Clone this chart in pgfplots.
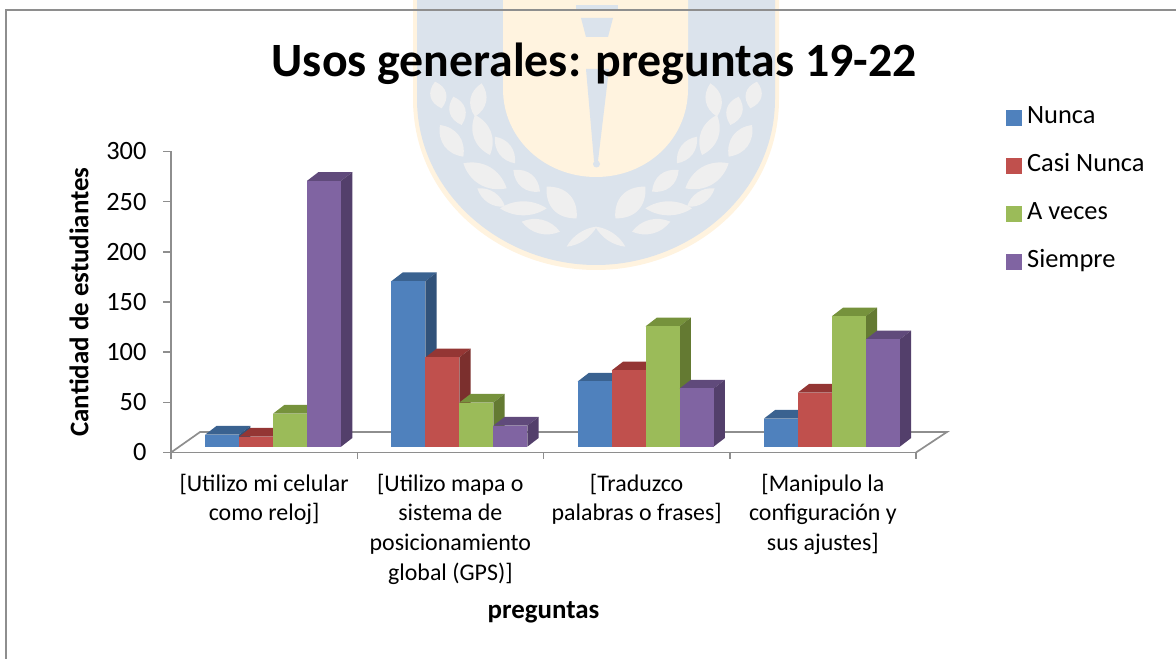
\documentclass[border=0pt]{standalone}
\usepackage{pgfplots}
\pgfplotsset{compat=1.18}
\usepackage{fontspec}
\setmainfont{Carlito}
\definecolor{cB}{HTML}{4F81BD}\definecolor{cBt}{HTML}{3A6290}\definecolor{cBs}{HTML}{31527A}
\definecolor{cR}{HTML}{C0504D}\definecolor{cRt}{HTML}{943634}\definecolor{cRs}{HTML}{7B2F2D}
\definecolor{cG}{HTML}{9BBB59}\definecolor{cGt}{HTML}{76923C}\definecolor{cGs}{HTML}{647A32}
\definecolor{cP}{HTML}{8064A2}\definecolor{cPt}{HTML}{604A7B}\definecolor{cPs}{HTML}{533F6B}
\definecolor{frameg}{HTML}{8E8E8E}
\definecolor{wmO}{HTML}{FFF3DF}\definecolor{wmB}{HTML}{DBE3EC}\definecolor{wmL}{HTML}{EFEFEF}
% one 3D column: group, series, value, colour prefix
\newcommand{\tb}[4]{%
  \pgfmathsetmacro\xa{#1+(#2-2)*0.18240}%
  \pgfmathsetmacro\xb{\xa+0.18240}%
  \pgfmathsetmacro\xc{\xa+0.0910}%
  \pgfmathsetmacro\xd{\xa+0.0607}%
  \pgfmathsetmacro\xe{\xb+0.0607}%
  \pgfmathsetmacro\vt{#3+8.67}%
  \pgfmathsetmacro\vb{8.67}%
  \edef\doit{%
    \noexpand\addplot[fill=#4t,draw=none,forget plot] coordinates {(\xa,#3) (\xd,\vt) (\xe,\vt) (\xb,#3)} -- cycle;
    \noexpand\addplot[fill=#4s,draw=none,forget plot] coordinates {(\xb,0) (\xe,\vb) (\xe,\vt) (\xb,#3)} -- cycle;
    \noexpand\addplot[ybar,bar width=34bp,bar shift=0pt,fill=#4,draw=none,forget plot] coordinates {(\xc,#3)};
  }\doit}
% watermark leaf in zoom coordinates (3x, origin 400,0) and its mirror
\newcommand{\leafone}[5]{%
  \pgfmathsetmacro\ax{400+#1/3}\pgfmathsetmacro\ay{659-#2/3}%
  \pgfmathsetmacro\bx{400+#3/3}\pgfmathsetmacro\by{659-#4/3}%
  \pgfmathsetmacro\nx{-(\by-\ay)}\pgfmathsetmacro\ny{\bx-\ax}%
  \pgfmathsetmacro\nn{veclen(\nx,\ny)}%
  \pgfmathsetmacro\ox{\nx/\nn*#5/3*0.8}\pgfmathsetmacro\oy{\ny/\nn*#5/3*0.8}%
  \fill[wmL] (\ax,\ay) .. controls ({\ax+(\bx-\ax)*0.3+\ox},{\ay+(\by-\ay)*0.3+\oy}) and ({\ax+(\bx-\ax)*0.7+\ox},{\ay+(\by-\ay)*0.7+\oy}) .. (\bx,\by)
     .. controls ({\ax+(\bx-\ax)*0.7-\ox},{\ay+(\by-\ay)*0.7-\oy}) and ({\ax+(\bx-\ax)*0.3-\ox},{\ay+(\by-\ay)*0.3-\oy}) .. (\ax,\ay) -- cycle;}
\newcommand{\leaf}[5]{\leafone{#1}{#2}{#3}{#4}{#5}\leafone{(1176-#1)}{#2}{(1176-#3)}{#4}{#5}}
\begin{document}
\begin{tikzpicture}[x=1bp,y=1bp]
\path[use as bounding box] (0,0) rectangle (1176,659);
% watermark
\fill[wmO] (413,659) -- (413,560) .. controls (413,460) and (500,389) .. (596,389) .. controls (692,389) and (779,460) .. (779,560) -- (779,659) -- cycle;
\fill[wmB] (417,659) -- (417,560) .. controls (417,465) and (503,394) .. (596,394) .. controls (689,394) and (775,465) .. (775,560) -- (775,659) -- cycle;
\fill[wmO] (503,659) -- (503,570) .. controls (503,520) and (545,482) .. (596,482) .. controls (647,482) and (688,520) .. (688,570) -- (688,659) -- cycle;
\fill[wmB] (576,654) rectangle (618,650);
\fill[wmB] (581,641) -- (613,641) -- (608,622) -- (586,622) -- cycle;
\fill[wmB] (586,590) -- (609,590) -- (598,498) -- (594,498) -- cycle;
\fill[wmB] (596.5,495) circle (3.5);
\leaf{125}{325}{105}{245}{40}
\leaf{185}{375}{160}{290}{40}
\leaf{225}{350}{245}{250}{40}
\leaf{190}{470}{120}{375}{45}
\leaf{270}{465}{225}{345}{45}
\leaf{345}{490}{285}{410}{35}
\leaf{320}{565}{190}{490}{50}
\leaf{420}{575}{340}{510}{40}
\leaf{315}{620}{232}{565}{30}
\leaf{440}{625}{300}{625}{35}
\leaf{530}{655}{440}{560}{55}
\leaf{480}{695}{365}{665}{35}
\leaf{590}{680}{500}{740}{22}
% frame
\draw[frameg,line width=1.5bp] (6,0) -- (6,649) -- (1176,649);
% frame axis: scale, labels, legend
\begin{axis}[
  at={(171bp,206.5bp)},anchor=south west,
  scale only axis,width=745bp,height=301bp,
  xmin=-0.5,xmax=3.5,ymin=0,ymax=300,
  clip=false,
  axis x line=bottom,axis y line=left,
  axis line style={frameg,line width=1.7bp,-},
  xtick={0,1,2,3},
  minor xtick={-0.5,0.5,1.5,2.5,3.5},
  xticklabels={{[Utilizo mi celular\\como reloj]},{[Utilizo mapa o\\sistema de\\posicionamiento\\global (GPS)]},{[Traduzco\\palabras o frases]},{[Manipulo la\\configuración y\\sus ajustes]}},
  ytick={0,50,100,150,200,250,300},
  major x tick style={draw=none},
  minor x tick style={frameg,line width=1.5bp},
  y tick style={frameg,line width=1.5bp},
  tick align=outside,
  major tick length=8bp,minor tick length=6.5bp,
  /pgf/number format/assume math mode=true,
  xticklabel style={align=center,font=\fontsize{24}{29.7}\selectfont,anchor=north,yshift=-10bp},
  yticklabel style={font=\fontsize{26.5}{26.5}\selectfont,xshift=-13bp},
  title={Usos generales: preguntas 19-22},
  title style={font=\fontsize{48}{48}\selectfont\bfseries,at={(axis description cs:0.568,1.228)},anchor=base},
  xlabel={preguntas},
  xlabel style={font=\fontsize{27}{27}\selectfont\bfseries,at={(axis description cs:0.5,-0.553)},anchor=base},
  ylabel={Cantidad de estudiantes},
  ylabel style={font=\fontsize{27}{27}\selectfont\bfseries,at={(axis description cs:-0.111,0.5)},anchor=base,rotate=0},
  legend style={at={(axis description cs:1.1162,1.16)},anchor=north west,draw=none,fill=none,
    font=\fontsize{26.5}{26.5}\selectfont,row sep=24bp,
    nodes={text height=18bp,text depth=6bp,inner sep=0pt,anchor=west}},
  legend cell align=left,
  legend image code/.code={\fill[#1] (0,-7.5bp) rectangle (15bp,7.5bp);\path (21bp,0);},
]
\draw[frameg,line width=1.7bp] (axis cs:-0.5,0) -- (axis cs:-0.344,20.4) -- (axis cs:3.666,20.4) -- (axis cs:3.5,0);
\addlegendimage{cB}\addlegendentry{Nunca}
\addlegendimage{cR}\addlegendentry{Casi Nunca}
\addlegendimage{cG}\addlegendentry{A veces}
\addlegendimage{cP}\addlegendentry{Siempre}
\end{axis}
% columns
\begin{axis}[
  at={(180bp,212.3bp)},anchor=south west,
  scale only axis,width=745bp,height=301bp,
  xmin=-0.5,xmax=3.5,ymin=0,ymax=300,
  clip=false,hide axis,
]
\tb{0}{0}{12}{cB}\tb{0}{1}{10}{cR}\tb{0}{2}{33}{cG}\tb{0}{3}{265}{cP}
\tb{1}{0}{165}{cB}\tb{1}{1}{89}{cR}\tb{1}{2}{44}{cG}\tb{1}{3}{21}{cP}
\tb{2}{0}{65}{cB}\tb{2}{1}{76}{cR}\tb{2}{2}{120}{cG}\tb{2}{3}{58}{cP}
\tb{3}{0}{28}{cB}\tb{3}{1}{54}{cR}\tb{3}{2}{130}{cG}\tb{3}{3}{107}{cP}
\end{axis}
\end{tikzpicture}
\end{document}
